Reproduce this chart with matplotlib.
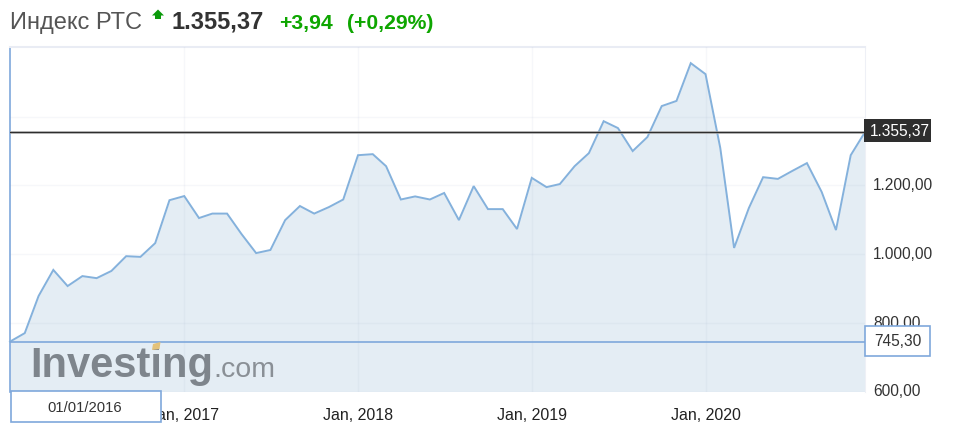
import matplotlib
matplotlib.use("Agg")
import matplotlib.pyplot as plt
from matplotlib import font_manager as fm
from matplotlib.patches import Rectangle, Polygon
import pandas as pd

plt.rcParams['font.family'] = ['Liberation Sans', 'DejaVu Sans']

W, H = 958, 447

dates = pd.date_range("2016-01-01", periods=60, freq="MS")
values = [745.30, 770, 878, 954, 907, 936, 930, 951, 994, 992, 1032, 1157,
          1169, 1105, 1118, 1118, 1059, 1003, 1012, 1099, 1140, 1118, 1137, 1159,
          1288, 1291, 1256, 1159, 1168, 1159, 1178, 1099, 1198, 1131, 1131, 1073,
          1222, 1195, 1204, 1256, 1294, 1387, 1367, 1300, 1341, 1431, 1446, 1556,
          1524, 1309, 1018, 1134, 1224, 1219, 1242, 1265, 1181, 1070, 1288, 1355.37]
y_ticks = [600, 800, 1000, 1200, 1400]
y_labels = ["600,00", "800,00", "1.000,00", "1.200,00"]
x_ticks = pd.to_datetime(["2017-01-01", "2018-01-01", "2019-01-01", "2020-01-01"])
x_labels = ["Jan, 2017", "Jan, 2018", "Jan, 2019", "Jan, 2020"]
last_value = 1355.37
first_value = 745.30
title = "Индекс РТС"
price = "1.355,37"
change = "+3,94"
change_pct = "(+0,29%)"

LINE = "#84B1DC"
FILL = "#E4EDF4"
BLUE = "#7FA8DB"
TXT = "#333333"
GREEN = "#0EA600"


def fx(p):
    return p / W


def fy(p):
    return 1 - p / H


fig = plt.figure(figsize=(W / 100, H / 100), dpi=100, facecolor="white")
ax = fig.add_axes([fx(10), fy(391.5), fx(855), (391.5 - 47) / H])
ax.set_xlim(dates[0], dates[-1])
ax.set_ylim(600, 1603)
for s in ax.spines.values():
    s.set_visible(False)
ax.spines["top"].set_visible(True)
ax.spines["top"].set_color("#E9ECF4")
ax.spines["top"].set_linewidth(1.5)
ax.spines["right"].set_visible(True)
ax.spines["right"].set_color("#EEF0F6")
ax.spines["left"].set_visible(True)
ax.spines["left"].set_color(BLUE)
ax.spines["left"].set_linewidth(1.2)

ax.set_yticks(y_ticks)
ax.set_yticklabels([])
ax.set_xticks(x_ticks)
ax.set_xticklabels([])
ax.tick_params(length=0)

ax.fill_between(dates, values, 600, color=FILL, lw=0, zorder=1.5)
ax.grid(True, color="#8899BB", alpha=0.07, lw=1, zorder=1.6)
ax.set_axisbelow(False)
ax.plot(dates, values, color=LINE, lw=1.4, zorder=3, solid_joinstyle="miter", clip_on=False)
ax.axhline(last_value, color="#C4C4C4", lw=1.8, zorder=3.5)
ax.axhline(last_value, color="#2E2E2E", lw=1.0, zorder=4)
ax.axhline(first_value, color=BLUE, lw=1.2, zorder=4)

# Watermark
names = {f.name for f in fm.fontManager.ttflist}
logo_family = "Liberation Sans Narrow" if "Liberation Sans Narrow" in names else "Liberation Sans"
logo_size = 37 if logo_family.endswith("Narrow") else 30
fig.text(fx(30), fy(377), "Investing", fontsize=logo_size, fontweight="bold", family=logo_family, color="#7E858C",
         va="baseline", ha="left", zorder=5)
fig.text(fx(213), fy(377), ".com", fontsize=20.5, color="#8A9096", va="baseline", ha="left", zorder=5)
fig.add_artist(Polygon([(fx(153), fy(344)), (fx(160.5), fy(342)), (fx(159.5), fy(349)), (fx(152), fy(350))],
                       closed=True, transform=fig.transFigure, facecolor="#E3C27A", edgecolor="none", zorder=6))

# X labels
for tx, lab in zip(x_ticks, x_labels):
    ax.annotate(lab, xy=(tx, 0), xycoords=("data", "axes fraction"), xytext=(0, -24.5),
                textcoords="offset pixels", ha="center", va="center", fontsize=11.5, color="#222222")
fig.text(fx(15), fy(416), "Jan, 2016", fontsize=11.5, color="#222222", va="center", ha="left")

# Y labels
for v, lab in zip(y_ticks, y_labels):
    ax.annotate(lab, xy=(1, v), xycoords=("axes fraction", "data"), xytext=(8, -0.5), textcoords="offset pixels",
                ha="left", va="center", fontsize=11.2, color=TXT)


# Boxes
def box(x0, y0, x1, y1, fc, ec, lw=1.2):
    fig.add_artist(Rectangle((fx(x0), fy(y1)), fx(x1 - x0), (y1 - y0) / H, transform=fig.transFigure,
                             facecolor=fc, edgecolor=ec, lw=lw, zorder=7))


box(864, 119, 931, 142.5, "#2E2E2E", "#2E2E2E", 0)
fig.text(fx(900), fy(131.5), price, fontsize=11.2, color="white", ha="center", va="center", zorder=8)
box(865, 326, 930, 355.5, "white", BLUE)
fig.text(fx(898), fy(342), "745,30", fontsize=11.2, color=TXT, ha="center", va="center", zorder=8)
box(10.5, 391, 160.5, 421.5, "white", BLUE)
fig.text(fx(85), fy(408.5), "01/01/2016", fontsize=10.6, color=TXT, ha="center", va="center", zorder=8)

# Header
fig.text(fx(10), fy(29), title, fontsize=17, color="#555555", ha="left", va="baseline")
fig.add_artist(Polygon([(fx(158), fy(9.5)), (fx(164), fy(15.5)), (fx(161), fy(15.5)), (fx(161), fy(19)),
                        (fx(155), fy(19)), (fx(155), fy(15.5)), (fx(152), fy(15.5))],
                       closed=True, transform=fig.transFigure, facecolor="#0B9A0B", edgecolor="none"))
fig.text(fx(171.5), fy(29), price, fontsize=17, fontweight="bold", color=TXT, ha="left", va="baseline")
fig.text(fx(279), fy(29), change, fontsize=15.2, fontweight="bold", color=GREEN, ha="left", va="baseline")
fig.text(fx(347), fy(29), change_pct, fontsize=15.2, fontweight="bold", color=GREEN, ha="left", va="baseline")

fig.savefig("out.png", dpi=100, facecolor="white")
